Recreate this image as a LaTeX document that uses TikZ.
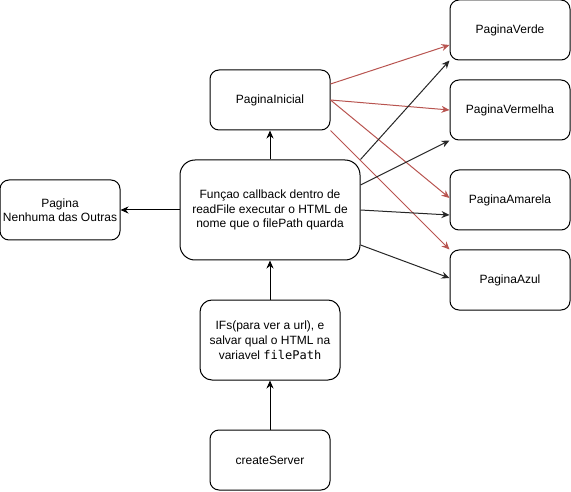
\documentclass[tikz,border=0pt]{standalone}
\usepackage{fontspec}
\setmainfont{Liberation Sans}
\newfontfamily\codefont{DejaVu Sans Mono}
\usepackage{xcolor}
\usetikzlibrary{positioning,arrows.meta}
\definecolor{redline}{HTML}{B85450}

\begin{document}
\begin{tikzpicture}[x=1pt,y=-1pt,line width=1pt,
  >={Stealth[length=8pt,width=7pt]}]
\useasboundingbox (0,0) rectangle (571,492);
\tikzstyle{every node}=[draw,rounded corners=9pt,align=center,inner sep=0pt,
  font=\fontsize{12}{14.4}\selectfont];

\draw node (verde) at (510,30) [minimum width=120pt,minimum height=60pt] {PaginaVerde};
\draw node (verm) at (510,110) [minimum width=120pt,minimum height=60pt] {PaginaVermelha};
\draw node (amar) at (510,200) [minimum width=120pt,minimum height=60pt] {PaginaAmarela};
\draw node (azul) at (510,280) [minimum width=120pt,minimum height=60pt] {PaginaAzul};
\draw node (ini) at (270,100) [minimum width=120pt,minimum height=60pt] {PaginaInicial};
\draw node (cb) at (270,210) [minimum width=180pt,minimum height=100pt,rounded corners=15pt]
  {Funçao callback dentro de\\readFile executar o HTML de\\nome que o filePath quarda};
\draw node (out) at (60,210) [minimum width=120pt,minimum height=60pt] {Pagina\\Nenhuma das Outras};
\draw node (ifs) at (270,340) [minimum width=140pt,minimum height=80pt,rounded corners=12pt,
  font=\fontsize{12}{15}\selectfont]
  {IFs(para ver a url), e\\salvar qual o HTML na\\variavel {\codefont filePath}};
\draw node (srv) at (270,460) [minimum width=120pt,minimum height=60pt] {createServer};

\draw[->] (srv) -- (ifs);
\draw[->] (ifs) -- (cb);
\draw[->] (cb) -- (ini);
\draw[->] (cb) -- (out);

\draw[->,redline] ([yshift=16pt]ini.east) -- ([yshift=-15pt]verde.west);
\draw[->,redline] (ini.east) -- (verm.west);
\draw[->,redline] (ini.east) -- ([yshift=2pt]amar.west);
\draw[->,redline] (ini.south east) -- (azul.north west);

\draw[->,black!85] (cb.north east) -- (verde.south west);
\draw[->,black!85] ([yshift=25pt]cb.east) -- (verm.south west);
\draw[->,black!85] (cb.east) -- ([yshift=-15pt]amar.west);
\draw[->,black!85] ([yshift=-35pt]cb.east) -- ([yshift=2pt]azul.west);
\end{tikzpicture}
\end{document}
